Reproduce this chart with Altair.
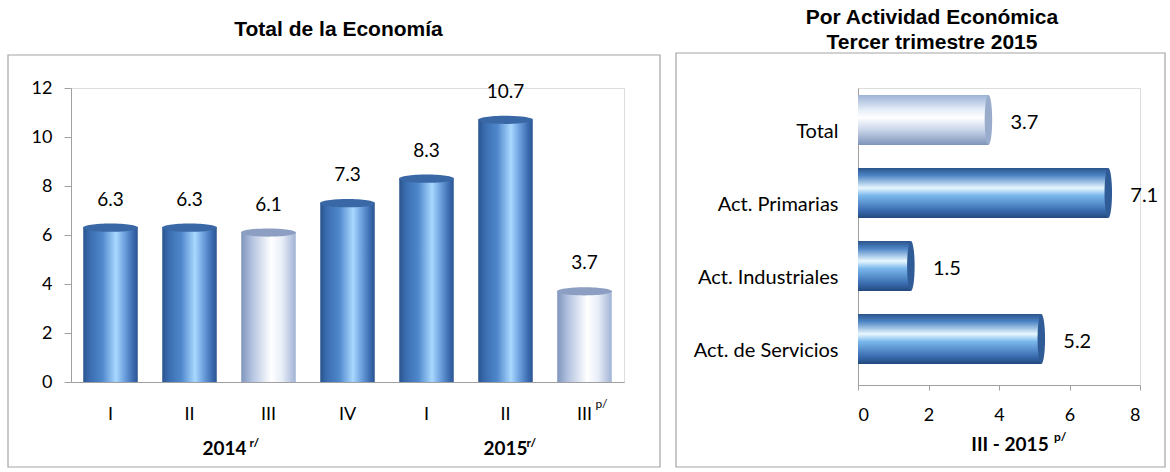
import altair as alt
import pandas as pd

# ---------------- data ----------------
quarters = ["I", "II", "III", "IV", "I", "II", "III"]
years = ["2014", "2014", "2014", "2014", "2015", "2015", "2015"]
growth = [6.3, 6.3, 6.1, 7.3, 8.3, 10.7, 3.7]
highlight = [False, False, True, False, False, False, True]

sectors = ["Total", "Act. Primarias", "Act. Industriales", "Act. de Servicios"]
sector_values = [3.7, 7.1, 1.5, 5.2]
sector_highlight = [True, False, False, False]

keys = [f"{y}-{q}" for y, q in zip(years, quarters)]
df_left = pd.DataFrame({"key": keys, "q": quarters, "year": years,
                        "v": growth, "hl": highlight})
df_right = pd.DataFrame({"s": sectors, "v": sector_values, "hl": sector_highlight})

FONT = "Lato"
TFONT = "Liberation Sans"
FRAME = "#a4a4a4"
AXIS = "#a0a0a0"

def vgrad(stops):
    return alt.Gradient(gradient="linear", x1=0, x2=1, y1=0, y2=0,
                        stops=[alt.GradientStop(offset=o, color=c) for o, c in stops])

def hgrad(stops):
    return alt.Gradient(gradient="linear", x1=0, x2=0, y1=0, y2=1,
                        stops=[alt.GradientStop(offset=o, color=c) for o, c in stops])

blue_v = vgrad([(0, "#2a548e"), (0.12, "#3a6db0"), (0.35, "#4f88cc"), (0.6, "#a9d8ff"),
                (0.75, "#6fa3e0"), (0.92, "#3a6aae"), (1, "#2c5592")])
light_v = vgrad([(0, "#7f95bd"), (0.2, "#b3c3e0"), (0.55, "#ffffff"),
                 (0.75, "#e8eef8"), (1, "#a0b2d4")])
blue_h = hgrad([(0, "#2a548c"), (0.15, "#4c84c4"), (0.4, "#e8f8ff"), (0.55, "#7ab8ec"),
                (0.85, "#3a6cb0"), (1, "#23497e")])
light_h = hgrad([(0, "#9cb3d6"), (0.3, "#e6eef8"), (0.45, "#ffffff"),
                 (0.7, "#c9d5ea"), (1, "#7d93b9")])

CAP_V = "M -1 0 A 1 0.15 0 1 0 1 0 A 1 0.15 0 1 0 -1 0 Z"
CAP_H = "M 0 -1 A 0.15 1 0 1 0 0 1 A 0.15 1 0 1 0 0 -1 Z"

# ---------------- left panel ----------------
W1, H1 = 553, 294
xs = alt.Scale(domain=keys, paddingInner=0.31, paddingOuter=0.155)
ys = alt.Scale(domain=[0, 12])

X = alt.X("key:N", scale=xs, sort=keys, title=None,
          axis=alt.Axis(labelExpr="split(datum.value, '-')[1]", labelAngle=0,
                        labelFont=FONT, labelFontSize=18, labelColor="black",
                        labelPadding=23, ticks=False, domainColor=AXIS))
Y = alt.Y("v:Q", scale=ys, title=None,
          axis=alt.Axis(values=[0, 2, 4, 6, 8, 10, 12], grid=False, tickSize=7,
                        tickColor=AXIS, domainColor=AXIS, labelFont=FONT,
                        labelFontSize=18, labelColor="black", labelPadding=12))

base_l = alt.Chart(df_left)
frame_l = alt.Chart(alt.Data(values=[{}])).mark_rect(
    fillOpacity=0, stroke=FRAME, strokeWidth=1.2).encode(
    x=alt.value(-63), x2=alt.value(589), y=alt.value(-33), y2=alt.value(379))

bars_l_blue = base_l.transform_filter("!datum.hl").mark_bar(color=blue_v).encode(x=X, y=Y)
bars_l_light = base_l.transform_filter("datum.hl").mark_bar(color=light_v).encode(x=X, y=Y)
caps_l = base_l.mark_point(shape=CAP_V, size=55 * 55, filled=True, opacity=1,
                           strokeWidth=0).encode(
    x=alt.X("key:N", scale=xs, sort=keys), y=alt.Y("v:Q", scale=ys),
    color=alt.condition("datum.hl", alt.value("#8c9fc2"), alt.value("#3a68a6")))
labels_l = base_l.mark_text(font=FONT, fontSize=19, dy=-28, baseline="middle",
                            color="black").encode(
    x=alt.X("key:N", scale=xs, sort=keys), y=alt.Y("v:Q", scale=ys),
    text=alt.Text("v:Q", format=".1f"))

last_key = [keys[-1]]
sup_p = alt.Chart(pd.DataFrame({"key": last_key, "t": ["p/"]})).mark_text(
    font=FONT, fontSize=12, align="left", dx=11, baseline="middle").encode(
    x=alt.X("key:N", scale=xs, sort=keys), y=alt.value(H1 + 22), text="t:N")

yr14 = alt.Chart(pd.DataFrame({"key": ["2014-III"], "t": ["2014"]})).mark_text(
    font=FONT, fontSize=19, fontWeight="bold", align="center", dx=-44,
    baseline="middle").encode(x=alt.X("key:N", scale=xs, sort=keys),
                              y=alt.value(361), text="t:N")
yr14s = alt.Chart(pd.DataFrame({"key": ["2014-III"], "t": ["r/"]})).mark_text(
    font=FONT, fontSize=12, fontWeight="bold", align="left", dx=-19,
    baseline="middle").encode(x=alt.X("key:N", scale=xs, sort=keys),
                              y=alt.value(355), text="t:N")
yr15 = alt.Chart(pd.DataFrame({"key": ["2015-II"], "t": ["2015"]})).mark_text(
    font=FONT, fontSize=19, fontWeight="bold", align="center", dx=0,
    baseline="middle").encode(x=alt.X("key:N", scale=xs, sort=keys),
                              y=alt.value(361), text="t:N")
yr15s = alt.Chart(pd.DataFrame({"key": ["2015-II"], "t": ["r/"]})).mark_text(
    font=FONT, fontSize=12, fontWeight="bold", align="left", dx=21,
    baseline="middle").encode(x=alt.X("key:N", scale=xs, sort=keys),
                              y=alt.value(355), text="t:N")

left = alt.layer(frame_l, bars_l_blue, bars_l_light, caps_l, labels_l,
                 sup_p, yr14, yr14s, yr15, yr15s).properties(
    width=W1, height=H1,
    title=alt.TitleParams("Total de la Economía", font=TFONT, fontSize=21,
                          fontWeight="bold", anchor="middle", dx=-9, offset=14))

# ---------------- right panel ----------------
W2, H2 = 282, 297
rx = alt.Scale(domain=[0, 8])
ry = alt.Scale(domain=sectors, paddingInner=0.315, paddingOuter=0.192, align=0.25)

RX = alt.X("v:Q", scale=rx, title=None,
           axis=alt.Axis(values=[0, 2, 4, 6, 8], grid=False, tickSize=5,
                         tickColor=AXIS, domainColor=AXIS, labelFont=FONT,
                         labelFontSize=18, labelColor="black", labelPadding=16))
RY = alt.Y("s:N", scale=ry, sort=sectors, title=None,
           axis=alt.Axis(ticks=False, domainColor=AXIS, labelFont=FONT,
                         labelFontSize=20, labelColor="black", labelPadding=20,
                         labelOffset=12))

base_r = alt.Chart(df_right)
frame_r = alt.Chart(alt.Data(values=[{}])).mark_rect(
    fillOpacity=0, stroke=FRAME, strokeWidth=1.2).encode(
    x=alt.value(-182), x2=alt.value(307), y=alt.value(-35), y2=alt.value(379))
bars_r_blue = base_r.transform_filter("!datum.hl").mark_bar(color=blue_h).encode(x=RX, y=RY)
bars_r_light = base_r.transform_filter("datum.hl").mark_bar(color=light_h).encode(x=RX, y=RY)
caps_r = base_r.mark_point(shape=CAP_H, size=50 * 50, filled=True, opacity=1,
                           strokeWidth=0).encode(
    x=alt.X("v:Q", scale=rx), y=alt.Y("s:N", scale=ry, sort=sectors),
    color=alt.condition("datum.hl", alt.value("#9aaccc"), alt.value("#2f5b96")))
labels_r = base_r.mark_text(font=FONT, fontSize=20, dx=22, dy=3, align="left",
                            baseline="middle", color="black").encode(
    x=alt.X("v:Q", scale=rx), y=alt.Y("s:N", scale=ry, sort=sectors),
    text=alt.Text("v:Q", format=".1f"))

xtitle = alt.Chart(pd.DataFrame({"t": ["III - 2015"]})).mark_text(
    font=FONT, fontSize=19, fontWeight="bold", align="center",
    baseline="middle").encode(x=alt.value(152), y=alt.value(357), text="t:N")
xtitle_s = alt.Chart(pd.DataFrame({"t": ["p/"]})).mark_text(
    font=FONT, fontSize=12, fontWeight="bold", align="left",
    baseline="middle").encode(x=alt.value(196), y=alt.value(349), text="t:N")

right = alt.layer(frame_r, bars_r_blue, bars_r_light, caps_r, labels_r,
                  xtitle, xtitle_s).properties(
    width=W2, height=H2,
    title=alt.TitleParams(["Por Actividad Económica", "Tercer trimestre 2015"],
                          font=TFONT, fontSize=21, fontWeight="bold",
                          anchor="middle", dx=-67, offset=-1, lineHeight=25))

chart = alt.hconcat(left, right, spacing=234, bounds="flush").properties(
    padding={"left": 6, "top": 6, "right": 0, "bottom": 0}
).configure_view(stroke=None).configure(background="white")

chart.save("out.html", embed_options={"renderer": "svg", "actions": False})
